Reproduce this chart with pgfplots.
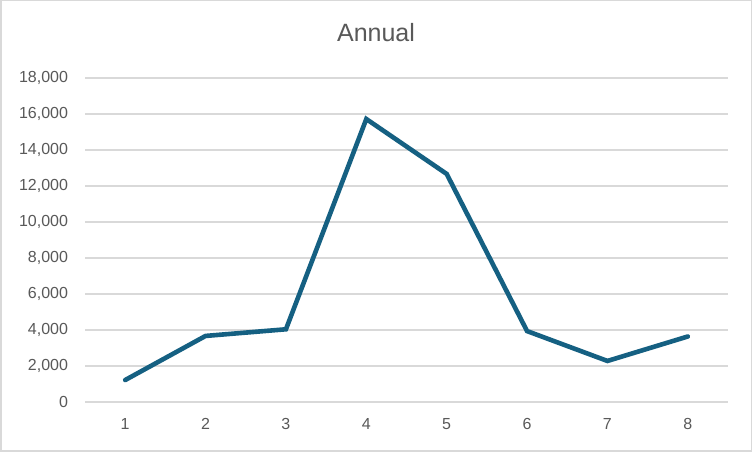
\documentclass[border=0pt]{standalone}
\usepackage{pgfplots}
\pgfplotsset{compat=1.18}
\usepackage{fontspec}
\setmainfont{Liberation Sans}
\definecolor{linec}{HTML}{156082}
\definecolor{gridc}{HTML}{D9D9D9}
\definecolor{txt}{HTML}{595959}
\begin{document}
\begin{tikzpicture}[x=1pt,y=1pt]
\draw[fill=white, draw=gridc, line width=1.5pt] (0.75,0.75) rectangle (751.25,451.25);
\node[text=txt, font=\fontsize{25}{30}\selectfont] at (376,419) {Annual};
\begin{axis}[at={(85pt,50pt)}, anchor=south west, scale only axis,
  width=643pt, height=324pt,
  xmin=0.5, xmax=8.5, ymin=0, ymax=18000,
  ytick={0,2000,...,18000}, xtick={1,...,8},
  axis line style={draw=none},
  ymajorgrids, grid style={gridc, line width=1.6pt},
  major tick length=0pt,
  tick label style={text=txt, font=\fontsize{16}{19}\selectfont},
  yticklabel style={xshift=-13.5pt},
  xticklabel style={yshift=-13pt},
  /pgf/number format/assume math mode=true,
  /pgf/number format/1000 sep={,},
  scaled y ticks=false,
  clip=false]
\addplot[linec, line width=4.6pt, line cap=round] coordinates {
(1,1220) (2,3670) (3,4040) (4,15720) (5,12670) (6,3940) (7,2280) (8,3640)};
\end{axis}
\end{tikzpicture}
\end{document}
